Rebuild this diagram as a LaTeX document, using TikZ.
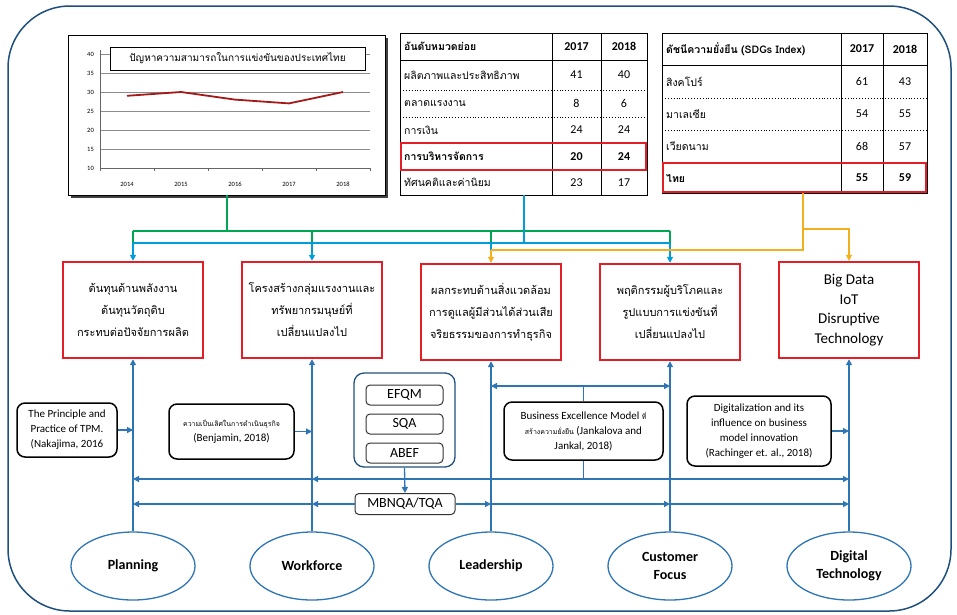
\documentclass[tikz,border=0pt]{standalone}
\usepackage{fontspec}
\setmainfont{Carlito}
\newfontfamily\thaifont[Script=Thai]{Loma}
\usetikzlibrary{positioning,calc,shapes.geometric,arrows.meta}

\definecolor{framecol}{RGB}{31,80,125}
\definecolor{linkcol}{RGB}{46,117,182}
\definecolor{grncol}{RGB}{0,166,81}
\definecolor{blucol}{RGB}{0,157,220}
\definecolor{yelcol}{RGB}{242,176,30}
\definecolor{redcol}{RGB}{228,30,38}
\definecolor{plotcol}{RGB}{165,25,25}

\begin{document}
\begin{tikzpicture}[x=1pt,y=-1pt,
		tip/.style={-{Triangle[length=6pt,width=6pt]}},
		issue/.style={draw=redcol,line width=2.4pt,minimum width=140pt,minimum height=96pt,align=center,
			font=\thaifont\fontsize{11}{22}\selectfont},
		pillar/.style={ellipse,draw=linkcol,line width=1.3pt,minimum width=124pt,minimum height=68pt,
			align=center,font=\bfseries\fontsize{14}{18}\selectfont},
		refbox/.style={draw,rounded corners=8pt,line width=1.5pt,align=center,inner sep=2pt,
			font=\fontsize{11}{15}\selectfont},
		awardbox/.style={draw=black!80,rounded corners=4pt,line width=1pt,minimum width=77pt,
			minimum height=20pt,inner sep=0pt,font=\fontsize{14}{16}\selectfont},
		link/.style={draw=linkcol,line width=1.3pt},
		grn/.style={draw=grncol,line width=2pt},
		blu/.style={draw=blucol,line width=2pt},
		yel/.style={draw=yelcol,line width=2pt},
		tcell/.style={inner sep=0pt,font=\thaifont\fontsize{10.5}{12}\selectfont},
		ncell/.style={inner sep=0pt,font=\fontsize{12}{14}\selectfont},
	]
	\useasboundingbox (0,0) rectangle (957,614);
	\draw[framecol,line width=1.5pt,rounded corners=62pt] (8,6) rectangle (951,611);
	%
	% chart
	\fill[black!75] (71,38) rectangle (388,198);
	\node[draw,fill=white,line width=0.8pt,minimum width=317pt,minimum height=160pt,inner sep=0pt] (chart) at (226.5,115) {};
	\foreach \v in {15,20,...,40}
		\draw[black!45,line width=0.6pt] (100,{168-(\v-10)*3.8}) -- (370,{168-(\v-10)*3.8});
	\draw[black!60,line width=0.6pt] (100,50) -- (100,168) -- (370,168);
	\foreach \v in {10,15,...,40}
		\node[anchor=east,inner sep=0pt,font=\fontsize{6.5}{7}\selectfont] (yl\v) at (94,{168-(\v-10)*3.8}) {\v};
	\foreach \k in {0,...,5}
		\draw[black!60,line width=0.6pt] ({100+\k*54},168) -- ({100+\k*54},171);
	\foreach \yr [count=\k from 0] in {2014,2015,2016,2017,2018}
		\node[inner sep=0pt,font=\fontsize{6.5}{7}\selectfont] (xl\yr) at ({127+\k*54},184) {\yr};
	\draw[plotcol,line width=1.8pt] plot coordinates {(127,95.8) (181,92) (235,99.6) (289,103.4) (343,92)};
	\node[draw,fill=white,line width=0.8pt,minimum width=255pt,minimum height=23pt,inner sep=0pt,
		font=\thaifont\fontsize{10}{12}\selectfont] (ctitle) at (237.5,58.5) {ปัญหาความสามารถในการแข่งขันของประเทศไทย};
	%
	% middle table
	\node[draw,line width=0.8pt,minimum width=247pt,minimum height=162pt,inner sep=0pt] (mt) at (523.5,114) {};
	\draw[line width=0.8pt] (552,33) -- (552,195) (601,33) -- (601,195) (400,60) -- (647,60) (400,170) -- (647,170);
	\draw[dotted,line width=0.9pt] (400,90) -- (647,90) (400,117) -- (647,117) (400,143) -- (647,143);
	\draw[redcol,line width=1.8pt] (401,143) rectangle (646,170);
	\node[tcell,anchor=west,font=\thaifont\bfseries\fontsize{10.5}{12}\selectfont] (mt-h) at (404,46.5) {อันดับหมวดย่อย};
	\node[ncell,font=\bfseries\fontsize{12}{14}\selectfont] (mt-h1) at (576.5,46.5) {2017};
	\node[ncell,font=\bfseries\fontsize{12}{14}\selectfont] (mt-h2) at (624,46.5) {2018};
	\foreach \y/\a/\b/\c [count=\i] in {75/ผลิตภาพและประสิทธิภาพ/41/40,103.5/ตลาดแรงงาน/8/6,130/การเงิน/24/24,182.5/ทัศนคติและค่านิยม/23/17}{
		\node[tcell,anchor=west] (mt-a\i) at (404,\y) {\a};
		\node[ncell] (mt-b\i) at (576.5,\y) {\b};
		\node[ncell] (mt-c\i) at (624,\y) {\c};
	}
	\node[tcell,anchor=west,font=\thaifont\bfseries\fontsize{10.5}{12}\selectfont] (mt-a5) at (404,156.5) {การบริหารจัดการ};
	\node[ncell,font=\bfseries\fontsize{12}{14}\selectfont] (mt-b5) at (576.5,156.5) {20};
	\node[ncell,font=\bfseries\fontsize{12}{14}\selectfont] (mt-c5) at (624,156.5) {24};
	%
	% right table
	\node[draw,line width=0.8pt,minimum width=265pt,minimum height=160pt,inner sep=0pt] (st) at (794.5,113) {};
	\draw[line width=0.8pt] (841,33) -- (841,193) (883,33) -- (883,193) (662,65) -- (927,65);
	\draw[dotted,line width=0.9pt] (662,98) -- (927,98) (662,130) -- (927,130);
	\draw[redcol,line width=1.8pt] (663,163) rectangle (926,192);
	\node[tcell,anchor=west,font=\thaifont\bfseries\fontsize{10.5}{12}\selectfont] (st-h) at (666,49) {ดัชนีความยั่งยืน (SDGs Index)};
	\node[ncell,font=\bfseries\fontsize{12}{14}\selectfont] (st-h1) at (862,49) {2017};
	\node[ncell,font=\bfseries\fontsize{12}{14}\selectfont] (st-h2) at (905,49) {2018};
	\foreach \y/\a/\b/\c [count=\i] in {81.5/สิงคโปร์/61/43,114/มาเลเซีย/54/55,146.5/เวียดนาม/68/57}{
		\node[tcell,anchor=west] (st-a\i) at (666,\y) {\a};
		\node[ncell] (st-b\i) at (862,\y) {\b};
		\node[ncell] (st-c\i) at (905,\y) {\c};
	}
	\node[tcell,anchor=west,font=\thaifont\bfseries\fontsize{10.5}{12}\selectfont] (st-a4) at (666,178) {ไทย};
	\node[ncell,font=\bfseries\fontsize{12}{14}\selectfont] (st-b4) at (862,178) {55};
	\node[ncell,font=\bfseries\fontsize{12}{14}\selectfont] (st-c4) at (905,178) {59};
	%
	% pillars
	\node[pillar] (pl) at (133,566) {Planning};
	\node[pillar] (wf) at (312,566) {Workforce};
	\node[pillar] (ld) at (491,566) {Leadership};
	\node[pillar] (cf) at (670,566) {Customer\\Focus};
	\node[pillar] (dt) at (849,566) {Digital\\Technology};
	%
	% red boxes
	\coordinate (isrow) at (0,310);
	\node[issue] (is1) at (pl |- isrow) {ต้นทุนด้านพลังงาน\\ต้นทุนวัตถุดิบ\\กระทบต่อปัจจัยการผลิต};
	\node[issue] (is2) at (wf |- isrow) {โครงสร้างกลุ่มแรงงานและ\\ทรัพยากรมนุษย์ที่\\เปลี่ยนแปลงไป};
	\node[issue,yshift=-2pt] (is3) at (ld |- isrow) {ผลกระทบด้านสิ่งแวดล้อม\\การดูแลผู้มีส่วนได้ส่วนเสีย\\จริยธรรมของการทำธุรกิจ};
	\node[issue,yshift=-2pt] (is4) at (cf |- isrow) {พฤติกรรมผู้บริโภคและ\\รูปแบบการแข่งขันที่\\เปลี่ยนแปลงไป};
	\node[issue,font=\fontsize{15}{19.5}\selectfont] (is5) at (dt |- isrow) {Big Data\\IoT\\Disruptive\\Technology};
	\foreach \p/\b in {pl/is1,wf/is2,ld/is3,cf/is4,dt/is5}
		\draw[link,tip] (\p.north) -- (\b.south);
	%
	% colour feeds
	\coordinate (gj) at (0,231);
	\coordinate (bj) at (0,243);
	\coordinate (yj) at (0,250);
	\coordinate (yk) at (0,229);
	\coordinate (yt) at ($(st.south west)!0.532!(st.south east)$);
	\draw[grn] (chart.south) -- (chart.south |- gj);
	\draw[grn] (is1.north |- gj) -- (is4.north |- gj);
	\foreach \b in {is1,is2,is3,is4}
		\draw[grn] (\b.north |- gj) -- (\b.north |- bj);
	\draw[blu] (mt.south) -- (mt.south |- bj);
	\draw[blu] (is1.north |- bj) -- (is4.north |- bj);
	\foreach \b in {is1,is2,is4}
		\draw[blu,tip] (\b.north |- bj) -- (\b.north);
	\draw[blu] (is3.north |- bj) -- (is3.north |- yj);
	\draw[yel] (yt) -- (yt |- yj) -- (is3.north |- yj);
	\draw[yel,tip] (is3.north |- yj) -- (is3.north);
	\draw[yel,tip] (yt |- yk) -| (is5.north);
	%
	% references
	\node[refbox,minimum width=100pt,minimum height=54pt] (tpm) at (67,430) {The Principle and\\Practice of TPM.\\(Nakajima, 2016};
	\node[refbox,minimum width=125pt,minimum height=55pt] (bjm) at (231.5,431.5) {{\thaifont\fontsize{7}{9}\selectfont ความเป็นเลิศในการดำเนินธุรกิจ}\\(Benjamin, 2018)};
	\node[refbox,minimum width=159pt,minimum height=58pt] (bem) at (583.5,431) {Business Excellence Model {\thaifont\fontsize{7}{9}\selectfont ที่}\\{\thaifont\fontsize{7}{9}\selectfont สร้างความยั่งยืน} (Jankalova and\\Jankal, 2018)};
	\node[refbox,minimum width=144pt,minimum height=70pt] (dgt) at (759,431) {Digitalization and its\\influence on business\\model innovation\\(Rachinger et. al., 2018)};
	\draw[link,tip] (tpm.east) -- (pl |- tpm.east);
	\draw[link,tip] (bjm.east) -- (wf |- bjm.east);
	\draw[link,tip] (dgt.east) -- (dt |- dgt.east);
	%
	\node[draw=framecol,rounded corners=10pt,line width=1.3pt,minimum width=101pt,minimum height=94pt] (grp) at (404.5,420) {};
	\node[awardbox] (efqm) at (404.5,395) {EFQM};
	\node[awardbox,below=8pt of efqm] (sqa) {SQA};
	\node[awardbox,below=8pt of sqa] (abef) {ABEF};
	\node[awardbox,draw=black!80,minimum width=100pt,minimum height=21pt] (mbq) at (405,504) {MBNQA/TQA};
	\draw[link,tip] (grp.south) -- (mbq.north);
	%
	\coordinate (ru) at (0,386);
	\coordinate (ra) at (0,479);
	\draw[link] (bem.north) -- (bem.north |- ru);
	\draw[link,tip] (bem.north |- ru) -- (ld |- ru);
	\draw[link,tip] (bem.north |- ru) -- (cf |- ru);
	\draw[link] (bem.south) -- (bem.south |- ra);
	\draw[link,tip] (bem.south |- ra) -- (wf |- ra);
	\draw[link,tip] (wf |- ra) -- (pl |- ra);
	\draw[link,tip] (bem.south |- ra) -- (dt |- ra);
	\draw[link,tip] (mbq.west) -- (wf |- mbq);
	\draw[link,tip] (wf |- mbq) -- (pl |- mbq);
	\draw[link,tip] (mbq.east) -- (ld |- mbq);
	\draw[link,tip] (ld |- mbq) -- (cf |- mbq);
	\draw[link,tip] (cf |- mbq) -- (dt |- mbq);
\end{tikzpicture}
\end{document}
